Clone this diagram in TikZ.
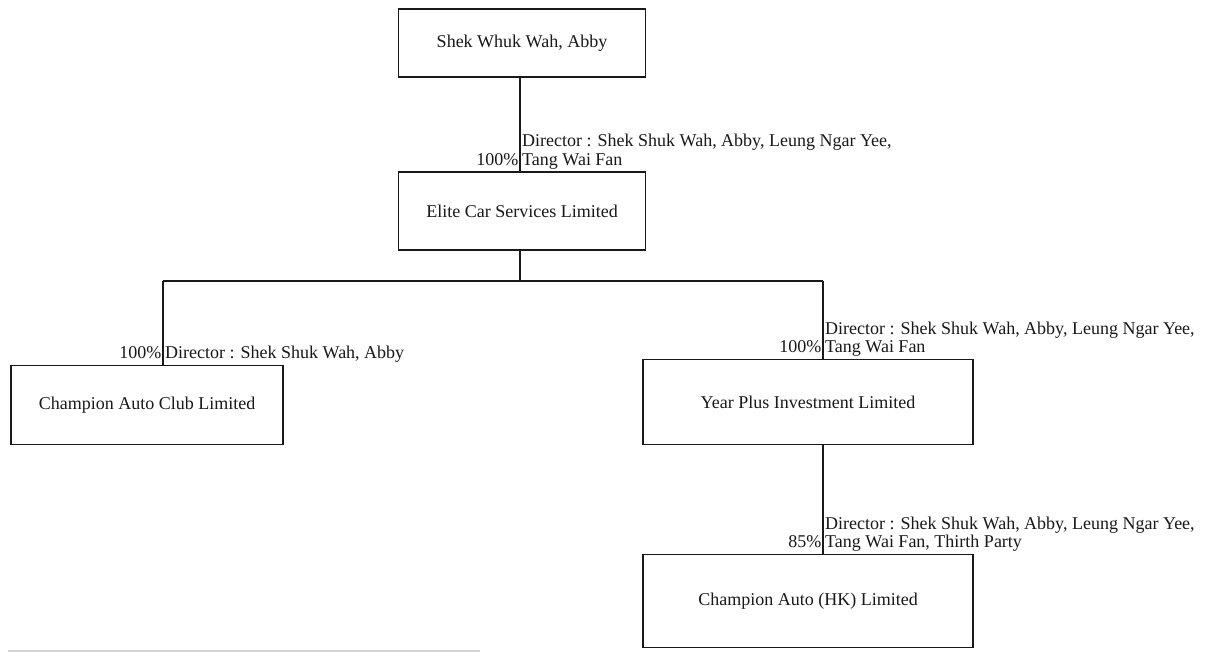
\documentclass[tikz,border=0pt]{standalone}
\usepackage{fontspec}
\setmainfont{Liberation Serif}
\newcommand{\orgfont}{\fontsize{18}{18.5}\selectfont}
\begin{document}
\begin{tikzpicture}[x=1pt,y=-1pt,
  box/.style={draw=black!90, line width=1.3pt, inner sep=0pt, font=\orgfont, text=black!90},
  link/.style={draw=black!90, line width=1.3pt},
  lblr/.style={anchor=south west, align=left, inner xsep=2pt, inner ysep=0.3pt, font=\orgfont, text=black!90},
  lbll/.style={anchor=south east, inner xsep=1.5pt, inner ysep=0.3pt, font=\orgfont, text=black!90}]
\useasboundingbox (0,0) rectangle (1222,652);
\fill[white] (0,0) rectangle (1222,652);

% boxes
\node[box, minimum width=247pt, minimum height=68pt] (abby) at (522,43) {Shek Whuk Wah, Abby};
\node[box, minimum width=247pt, minimum height=78pt] (elite) at (522,211) {Elite Car Services Limited};
\node[box, minimum width=272pt, minimum height=79pt] (club) at (147,405) {Champion Auto Club Limited};
\node[box, minimum width=330pt, minimum height=85pt] (yp) at (808,402) {Year Plus Investment Limited};
\node[box, minimum width=330pt, minimum height=93pt] (hk) at (808,601) {Champion Auto (HK) Limited};

% junction coordinates
\coordinate (j) at (520,281);
\coordinate (lft) at (163,281);
\coordinate (rgt) at (823,281);

% connectors
\draw[link] (abby.south -| j) -- (elite.north -| j);
\draw[link] (elite.south -| j) -- (j);
\draw[link] (lft) -- (rgt);
\draw[link] (lft) -- (lft |- club.north);
\draw[link] (rgt) -- (rgt |- yp.north);
\draw[link] (yp.south -| rgt) -- (hk.north -| rgt);

% labels
\node[lblr] (l1) at (elite.north -| j) {Director : Shek Shuk Wah, Abby, Leung Ngar Yee,\\Tang Wai Fan\strut};
\node[lbll] (p1) at (elite.north -| j) {100\%\strut};

\node[lblr] (l2) at (club.north -| lft) {Director : Shek Shuk Wah, Abby\strut};
\node[lbll] (p2) at (club.north -| lft) {100\%\strut};

\node[lblr] (l3) at (yp.north -| rgt) {Director : Shek Shuk Wah, Abby, Leung Ngar Yee,\\Tang Wai Fan\strut};
\node[lbll] (p3) at (yp.north -| rgt) {100\%\strut};

\node[lblr] (l4) at (hk.north -| rgt) {Director : Shek Shuk Wah, Abby, Leung Ngar Yee,\\Tang Wai Fan, Thirth Party\strut};
\node[lbll] (p4) at (hk.north -| rgt) {85\%\strut};

% faint scan edge at the bottom
\draw[black!18, line width=1.5pt] (8,651) -- (480,651);
\end{tikzpicture}
\end{document}
